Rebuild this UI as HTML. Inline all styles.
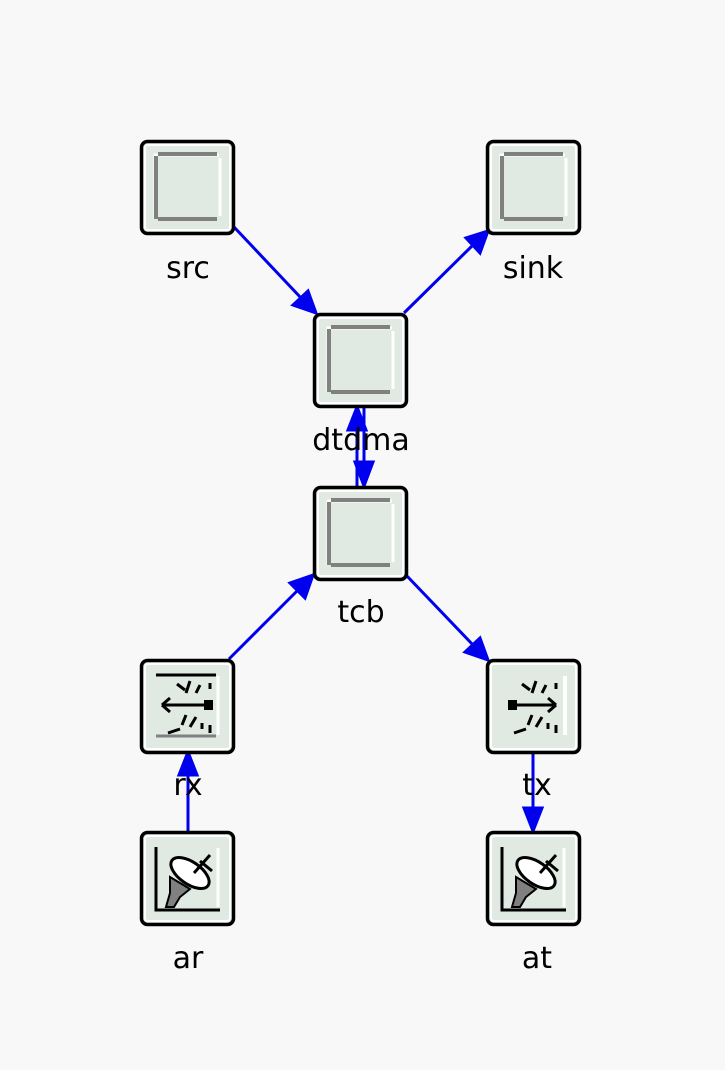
<!DOCTYPE html>
<html><head><meta charset="utf-8"><style>
html,body{margin:0;padding:0;background:#f8f8f8;}
svg{display:block}
text{font-family:"DejaVu Sans","Liberation Sans",sans-serif;font-size:30px;fill:#000;text-anchor:middle}
</style></head><body>
<svg width="725" height="1070" viewBox="0 0 725 1070" xmlns="http://www.w3.org/2000/svg">
<defs>
<marker id="ah" markerWidth="10" markerHeight="10" refX="9" refY="5" orient="auto" markerUnits="userSpaceOnUse" viewBox="0 0 10 10">
</marker>
<g id="box">
<rect x="1.5" y="1.5" width="92" height="92" rx="6" fill="#e1e9e3" stroke="#000" stroke-width="3.5"/>
<rect x="5" y="5" width="85" height="85" rx="3" fill="none" stroke="#fff" stroke-width="2"/>
</g>
<g id="plain">
<use href="#box"/>
<path d="M15 79 V15 H79" fill="none" stroke="#fff" stroke-width="3"/>
<path d="M16 79 V16 M18 14 H77 M18 79 H77" fill="none" stroke="#808080" stroke-width="4"/>
<path d="M80 18 V76" stroke="#fff" stroke-width="3"/>
</g>
<g id="dish">
<use href="#box"/>
<path d="M16 16 V79 H80" fill="none" stroke="#000" stroke-width="3"/>
<path d="M78 17 V76" stroke="#fff" stroke-width="3"/>
<ellipse cx="50" cy="42" rx="22" ry="11" transform="rotate(35 50 42)" fill="#fff" stroke="#000" stroke-width="3"/>
<path d="M54 42 L70 24 M60 30 L72 40" stroke="#000" stroke-width="3"/>
<path d="M30 46 L50 58 L40 66 L34 76 L26 76 L30 62 Z" fill="#808080" stroke="#000" stroke-width="2"/>
</g>
<g id="ant">
<use href="#box"/>
<path d="M16 16 H76" stroke="#000" stroke-width="3"/>
<path d="M16 77 H76" stroke="#808080" stroke-width="3"/>
<path d="M78 17 V76" stroke="#fff" stroke-width="3"/>
<path d="M22 46 H70 M22 46 l8 -7 M22 46 l8 7" fill="none" stroke="#000" stroke-width="3"/>
<rect x="64" y="41" width="9" height="10" fill="#000"/>
<path d="M37 25 l8 6 M50 22 l-4 12 M60 26 l-4 8 M70 24 v6 M46 56 l-4 10 M56 58 l-6 10 M40 70 l-12 4 M62 64 v6 M70 66 v8" stroke="#000" stroke-width="3"/>
</g>
<g id="ant2">
<use href="#box"/>
<path d="M79 17 V76" stroke="#fff" stroke-width="4"/>
<path d="M22 46 H70 M70 46 l-8 -7 M70 46 l-8 7" fill="none" stroke="#000" stroke-width="3"/>
<rect x="22" y="41" width="9" height="10" fill="#000"/>
<path d="M36 25 l8 6 M50 22 l-4 12 M60 26 l-4 8 M70 24 v6 M46 56 l-4 10 M56 58 l-6 10 M40 70 l-12 4 M62 64 v6 M70 66 v8" stroke="#000" stroke-width="3"/>
</g>
</defs>

<g stroke="#0000ee" stroke-width="3" fill="#0000ee">
<line x1="234" y1="227" x2="302" y2="299"/><polygon points="316,313 293,305 308,291"/>
<line x1="404" y1="313" x2="474" y2="244"/><polygon points="488,231 480,253 466,238"/>
<line x1="357" y1="486" x2="357" y2="428"/><polygon points="357,407 348,430 366,430"/>
<line x1="364" y1="407" x2="364" y2="466"/><polygon points="364,486 355,462 373,462"/>
<line x1="406" y1="575" x2="474" y2="646"/><polygon points="488,660 465,652 480,638"/>
<line x1="229" y1="659" x2="298" y2="590"/><polygon points="313,575 305,598 290,583"/>
<line x1="188" y1="831" x2="188" y2="773"/><polygon points="188,752 179,775 197,775"/>
<line x1="533" y1="752" x2="533" y2="810"/><polygon points="533,831 524,808 542,808"/>
</g>

<use href="#plain" x="140" y="140"/>
<use href="#plain" x="486" y="140"/>
<use href="#plain" x="313" y="313"/>
<use href="#plain" x="313" y="486"/>
<use href="#ant" x="140" y="659"/>
<use href="#ant2" x="486" y="659"/>
<use href="#dish" x="140" y="831"/>
<use href="#dish" x="486" y="831"/>

<text x="188" y="278">src</text>
<text x="533" y="278">sink</text>
<text x="361" y="450">dtdma</text>
<text x="361" y="622">tcb</text>
<text x="188" y="795">rx</text>
<text x="537" y="795">tx</text>
<text x="188" y="968">ar</text>
<text x="537" y="968">at</text>
</svg>
</body></html>
